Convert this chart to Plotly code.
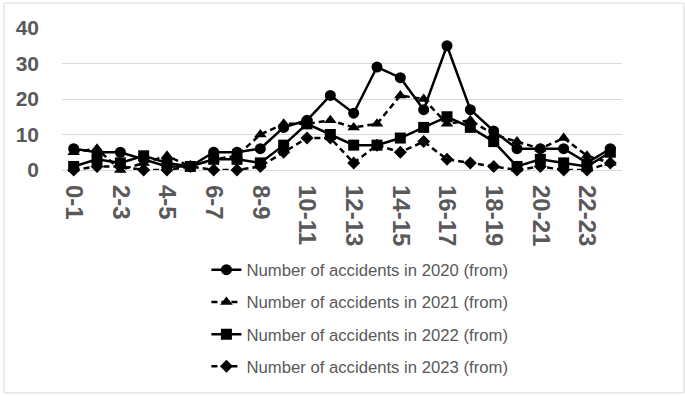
import plotly.graph_objects as go

hours = ["0-1", "1-2", "2-3", "3-4", "4-5", "5-6", "6-7", "7-8", "8-9", "9-10", "10-11", "11-12",
         "12-13", "13-14", "14-15", "15-16", "16-17", "17-18", "18-19", "19-20", "20-21", "21-22",
         "22-23", "23-24"]

acc_2020 = [6, 5, 5, 3, 1, 1, 5, 5, 6, 12, 14, 21, 16, 29, 26, 17, 35, 17, 11, 6, 6, 6, 2, 6]
acc_2021 = [5, 6, 0, 2, 4, 1, 3, 4, 10, 13, 13, 14, 12, 13, 21, 20, 13, 14, 10, 8, 6, 9, 4, 2]
acc_2022 = [1, 3, 2, 4, 2, 1, 3, 3, 2, 7, 13, 10, 7, 7, 9, 12, 15, 12, 8, 1, 3, 2, 1, 5]
acc_2023 = [0, 1, 1, 0, 0, 1, 0, 0, 1, 5, 9, 9, 2, 7, 5, 8, 3, 2, 1, 0, 1, 0, 0, 2]

names = ["Number of accidents in 2020 (from)", "Number of accidents in 2021 (from)",
         "Number of accidents in 2022 (from)", "Number of accidents in 2023 (from)"]
series = [acc_2020, acc_2021, acc_2022, acc_2023]
symbols = ["circle", "triangle-up", "square", "diamond"]
dashes = ["solid", "6px,4px", "solid", "6px,4px"]
sizes = [11, 11, 11, 10]

fig = go.Figure()
for i, (nm, ys) in enumerate(zip(names, series)):
    fig.add_trace(go.Scatter(
        x=hours, y=ys, name=nm, mode="lines+markers",
        line=dict(color="black", width=2.5, dash=dashes[i]),
        marker=dict(symbol=symbols[i], size=sizes[i], color="black"),
        cliponaxis=False, legendgroup=str(i),
    ))

gray = "#595959"
fig.update_layout(
    width=685, height=396,
    paper_bgcolor="white", plot_bgcolor="white",
    margin=dict(l=62, r=63, t=28, b=226),
    font=dict(family="Liberation Sans", color=gray),
    showlegend=True,
    legend=dict(x=0.532, xanchor="center", y=-0.58, yanchor="top",
                orientation="v", tracegroupgap=7.5,
                font=dict(size=16.7, color=gray, family="Liberation Sans"),
                bgcolor="rgba(0,0,0,0)"),
    xaxis=dict(type="category", tickmode="array", tickvals=hours[::2], ticktext=hours[::2],
               range=[-0.5, 23.5], autorange=False, automargin=False,
               tickangle=90, showgrid=False, showline=False, zeroline=False, ticks="",
               ticklabelstandoff=14,
               tickfont=dict(size=24, color=gray, family="Liberation Sans", weight="bold")),
    yaxis=dict(range=[0, 40], autorange=False, automargin=False, dtick=10, showgrid=True,
               gridcolor="#d9d9d9", gridwidth=1,
               zeroline=True, zerolinecolor="#d9d9d9", zerolinewidth=1, showline=False,
               ticks="", ticklabelstandoff=22,
               tickfont=dict(size=21, color=gray, family="Liberation Sans", weight="bold")),
    shapes=[dict(type="rect", xref="paper", yref="paper",
                 x0=-0.1036, x1=1.1107, y0=-1.570, y1=1.176,
                 line=dict(color="#d9d9d9", width=1), fillcolor="rgba(0,0,0,0)", layer="below")],
)

fig.write_html("out.html", config={"displayModeBar": False},
               post_script="document.body.style.margin='0px';")
